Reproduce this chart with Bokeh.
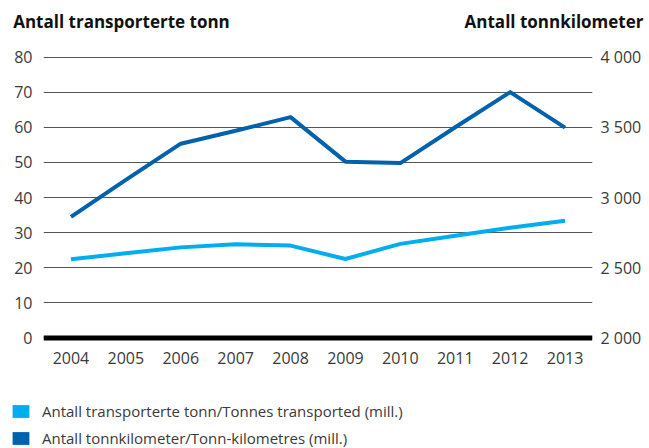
from bokeh.plotting import figure
from bokeh.models import (Range1d, LinearAxis, FixedTicker, Label, Legend,
                          LegendItem, Span)
from bokeh.layouts import column
from bokeh.embed import file_html
from bokeh.resources import INLINE
import numpy as np

# ---- data ----
years = [2004, 2005, 2006, 2007, 2008, 2009, 2010, 2011, 2012, 2013]
tonnes = [22.4, 24.1, 25.8, 26.7, 26.3, 22.5, 26.8, 29.1, 31.4, 33.4]        # mill. tonnes (left axis)
tonnkm = [2862, 3125, 3383, 3475, 3572, 3255, 3245, 3500, 3750, 3497]        # mill. tonn-km (right axis)
left_ticks = [0, 10, 20, 30, 40, 50, 60, 70, 80]
right_ticks = [2000, 2500, 3000, 3500, 4000]
right_tick_labels = ["2 000", "2 500", "3 000", "3 500", "4 000"]
title_left = "Antall transporterte tonn"
title_right = "Antall tonnkilometer"
legend_labels = ["Antall transporterte tonn/Tonnes transported (mill.)",
                 "Antall tonnkilometer/Tonn-kilometres (mill.)"]

LIGHT = "#00aeef"
DARK = "#0061ad"
TXT = "#3a3a3a"
FONT = "Open Sans"
W = 649


def bare(fig):
    fig.outline_line_color = None
    fig.background_fill_color = "white"
    fig.border_fill_color = "white"
    fig.frame_align = False


# ---- header with the two axis titles ----
head = figure(width=W, height=45, output_backend="svg", toolbar_location=None,
              x_axis_type=None, y_axis_type=None,
              x_range=Range1d(0, 1), y_range=Range1d(0, 1),
              min_border=0)
bare(head)
head.add_layout(Label(x=12.7, y=24.5, x_units="screen", y_units="screen",
                      text=title_left, text_font=FONT, text_font_style="bold",
                      text_font_size="17px", text_color="#111111",
                      text_align="left", text_baseline="alphabetic"))
head.add_layout(Label(x=643, y=24.5, x_units="screen", y_units="screen",
                      text=title_right, text_font=FONT, text_font_style="bold",
                      text_font_size="17px", text_color="#111111",
                      text_align="right", text_baseline="alphabetic"))

# ---- main chart ----
p = figure(width=W, height=335, output_backend="svg", toolbar_location=None,
           x_range=Range1d(2003.5, 2013.5), y_range=Range1d(-1, 81),
           min_border_left=43, min_border_right=57, min_border_top=8,
           min_border_bottom=39)
bare(p)
p.extra_y_ranges = {"right": Range1d(2000 - 25, 4000 + 25)}

p.xgrid.visible = False
p.ygrid.ticker = FixedTicker(ticks=left_ticks)
p.ygrid.grid_line_color = "#555555"
p.ygrid.grid_line_width = 1


def style_axis(ax, standoff):
    ax.axis_line_color = None
    ax.major_tick_line_color = None
    ax.minor_tick_line_color = None
    ax.major_tick_out = 0
    ax.major_tick_in = 0
    ax.minor_tick_out = 0
    ax.minor_tick_in = 0
    ax.major_label_standoff = standoff
    ax.major_label_text_font = FONT
    ax.major_label_text_font_size = "16px"
    ax.major_label_text_color = TXT


p.xaxis.ticker = FixedTicker(ticks=years)
style_axis(p.xaxis[0], 10)
p.yaxis.ticker = FixedTicker(ticks=left_ticks)
style_axis(p.yaxis[0], 11)

ra = LinearAxis(y_range_name="right", ticker=FixedTicker(ticks=right_ticks),
                major_label_overrides={t: l for t, l in zip(right_ticks, right_tick_labels)})
style_axis(ra, 8)
p.add_layout(ra, "right")

p.add_layout(Span(location=0, dimension="width", line_color="black", line_width=5))

p.line(years, tonnes, line_color=LIGHT, line_width=4, line_join="round")
p.line(years, tonnkm, y_range_name="right", line_color=DARK, line_width=4,
       line_join="round")

# ---- footer with the legend ----
foot = figure(width=W, height=68, output_backend="svg", toolbar_location=None,
              x_axis_type=None, y_axis_type=None,
              x_range=Range1d(0, 1), y_range=Range1d(0, 1),
              min_border=0)
bare(foot)
s1 = foot.rect(x=[np.nan], y=[np.nan], width=1, height=1, fill_color=LIGHT, line_color=None)
s2 = foot.rect(x=[np.nan], y=[np.nan], width=1, height=1, fill_color=DARK, line_color=None)
leg = Legend(items=[LegendItem(label=legend_labels[0], renderers=[s1]),
                    LegendItem(label=legend_labels[1], renderers=[s2])],
             location=(10, 0), orientation="vertical")
leg.border_line_color = None
leg.background_fill_alpha = 0
leg.padding = 0
leg.margin = 0
leg.spacing = 7
leg.glyph_width = 21
leg.glyph_height = 16
leg.label_height = 20
leg.label_standoff = 11
leg.label_text_font = FONT
leg.label_text_font_size = "15px"
leg.label_text_color = TXT
foot.add_layout(leg, "center")

layout = column(head, p, foot, spacing=0)
open("out.html", "w").write(file_html(layout, INLINE))
